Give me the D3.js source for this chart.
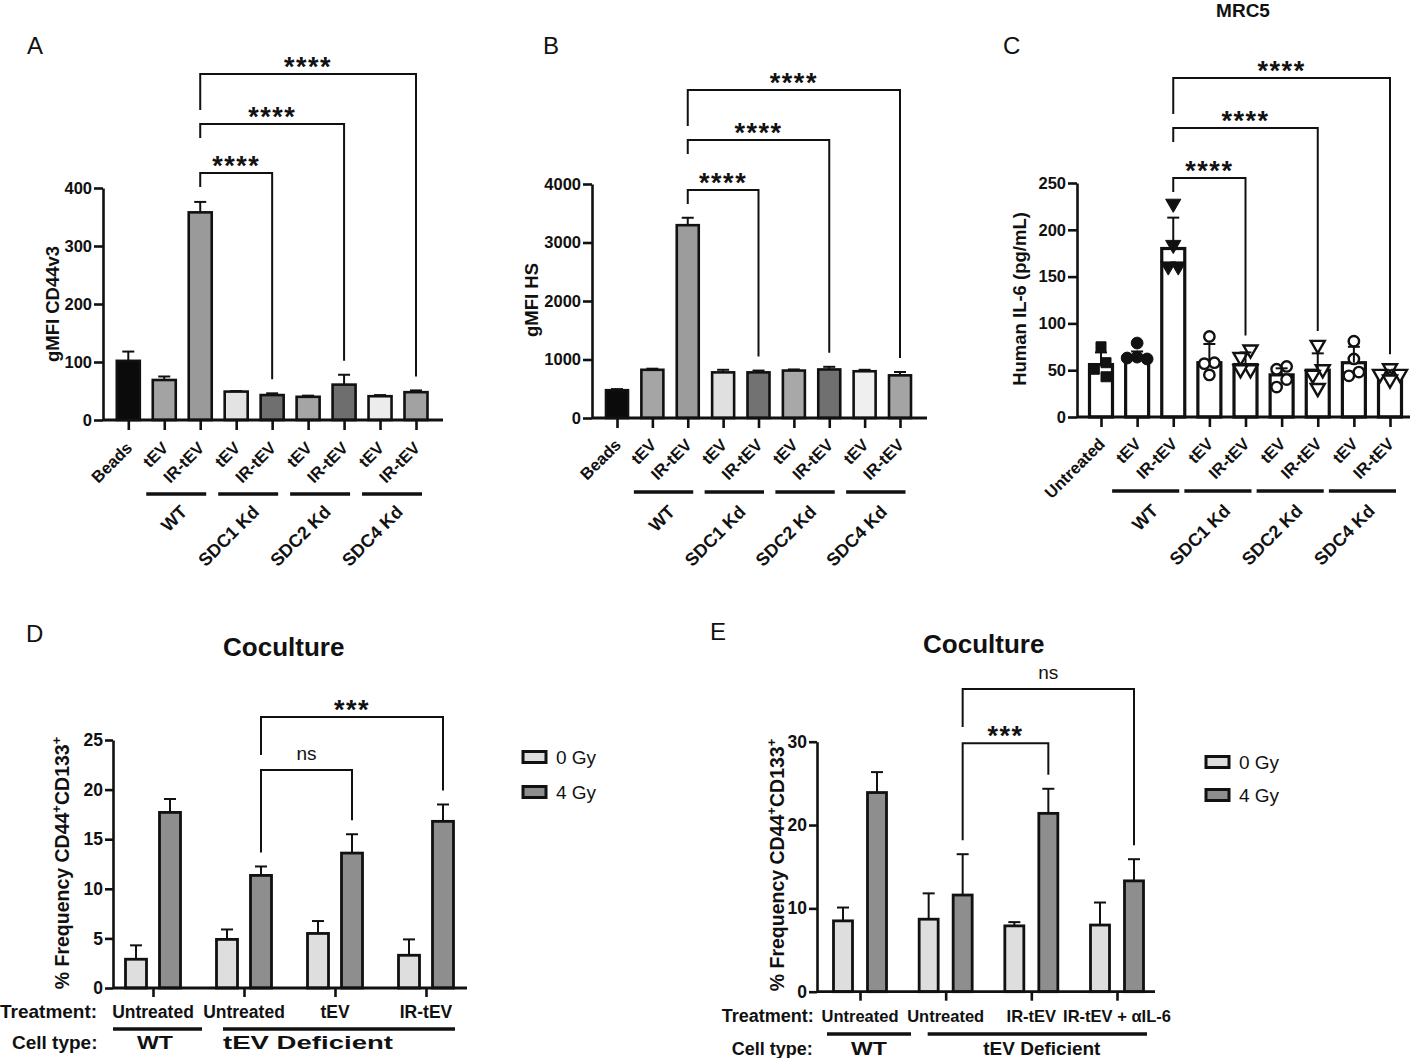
<!DOCTYPE html>
<html>
<head>
<meta charset="utf-8">
<script src="https://cdn.jsdelivr.net/npm/d3@7"></script>
<style>
  body { margin: 0; background: #fff; }
  svg { display: block; font-family: "Liberation Sans", Arial, sans-serif; }
</style>
</head>
<body>
<svg id="fig" width="1417" height="1058"></svg>
<script>
// ---------- data ----------
var aCats = ["Beads", "tEV", "IR-tEV", "tEV", "IR-tEV", "tEV", "IR-tEV", "tEV", "IR-tEV"];
var cCats = ["Untreated", "tEV", "IR-tEV", "tEV", "IR-tEV", "tEV", "IR-tEV", "tEV", "IR-tEV"];
var kdGroups = ["WT", "SDC1 Kd", "SDC2 Kd", "SDC4 Kd"];
var kdGroupBars = [[1, 2], [3, 4], [5, 6], [7, 8]];
var kdSig = [[2, 4, "****"], [2, 6, "****"], [2, 8, "****"]];

var aMean = [102, 69, 358, 49, 43, 40, 61, 41, 48];
var aErr = [16, 6, 18, 1, 3, 2, 17, 2, 3];
var aTicks = [0, 100, 200, 300, 400];

var bMean = [475, 824, 3296, 780, 780, 811, 830, 799, 729];
var bErr = [19, 19, 127, 44, 31, 19, 45, 25, 57];
var bTicks = [0, 1000, 2000, 3000, 4000];

var cMean = [56, 62, 180, 58, 56, 45, 50, 58, 47];
var cErr = [13, 8, 33, 20, 13, 7, 18, 17, 3];
var cPoints = [
  [75, 58, 51, 43],
  [79, 64, 63, 62],
  [228, 184, 161, 161],
  [86, 58, 57, 45],
  [72, 64, 51, 51],
  [54, 51, 40, 32],
  [77, 51, 45, 31],
  [81, 62, 48, 44],
  [52, 46, 46, 40]
];
var cTicks = [0, 50, 100, 150, 200, 250];

var doseSeries = ["0 Gy", "4 Gy"];
var cellTypes = ["WT", "tEV Deficient"];
var cellSpan = [[0, 0], [1, 3]];

var dTreat = ["Untreated", "Untreated", "tEV", "IR-tEV"];
var dMean0 = [2.9, 4.9, 5.5, 3.3];
var dErr0 = [1.4, 1.0, 1.25, 1.6];
var dMean4 = [17.7, 11.35, 13.6, 16.8];
var dErr4 = [1.35, 0.9, 1.9, 1.7];
var dTicks = [0, 5, 10, 15, 20, 25];
var dSig = [[1, 2, "ns"], [1, 3, "***"]];

var eTreat = ["Untreated", "Untreated", "IR-tEV", "IR-tEV + \u03b1IL-6"];
var eMean0 = [8.5, 8.7, 7.9, 8.0];
var eErr0 = [1.6, 3.1, 0.45, 2.7];
var eMean4 = [23.9, 11.6, 21.4, 13.3];
var eErr4 = [2.45, 4.9, 2.95, 2.6];
var eTicks = [0, 10, 20, 30];
var eSig = [[1, 2, "***"], [1, 3, "ns"]];

// ---------- drawing ----------
var INK = "#111";
var svg = d3.select("#fig");
svg.append("rect").attr("width", 1417).attr("height", 1058).attr("fill", "#fff");

function panelLetter(t, x, y) {
  svg.append("text").attr("x", x).attr("y", y).attr("font-size", 24)
    .attr("fill", INK).text(t);
}

function styleAxis(ax, fs) {
  ax.selectAll("path, line").attr("stroke", INK).attr("stroke-width", 2.6);
  ax.selectAll("text").attr("font-size", fs).attr("font-weight", "bold")
    .attr("fill", INK).attr("font-family", "Liberation Sans, Arial, sans-serif");
}

function sigLabel(g, x, level, label) {
  var t = g.append("text").attr("x", x).attr("text-anchor", "middle").attr("fill", INK);
  if (label == "ns") {
    t.attr("y", level - 10).attr("font-size", 19).text(label);
  } else {
    t.attr("y", level + 2).attr("font-size", 27).attr("font-weight", "bold")
      .attr("letter-spacing", 1.5).text(label);
  }
}

function errorBar(g, cx, y1, y2, cap) {
  g.append("line").attr("x1", cx).attr("x2", cx).attr("y1", y1).attr("y2", y2)
    .attr("stroke", INK).attr("stroke-width", 2);
  g.append("line").attr("x1", cx - cap / 2).attr("x2", cx + cap / 2).attr("y1", y2).attr("y2", y2)
    .attr("stroke", INK).attr("stroke-width", 2);
}

function barPanel(d, L) {
  var g = svg.append("g");
  var y = d3.scaleLinear().domain([0, d.ticks[d.ticks.length - 1]]).range([L.zeroY, L.topY]);
  var x = d3.scalePoint().domain(d3.range(d.mean.length)).range(L.centers);
  var top = d.mean.map(function(m, i) {
    return Math.max(m + d.err[i], d.points ? d3.max(d.points[i]) : 0);
  });

  g.selectAll("rect.bar").data(d.mean).join("rect")
    .attr("x", function(m, i) { return x(i) - L.bw / 2; })
    .attr("width", L.bw)
    .attr("y", function(m) { return y(m); })
    .attr("height", function(m) { return y(0) - y(m); })
    .attr("fill", function(m, i) { return L.fills[i]; })
    .attr("stroke", INK).attr("stroke-width", L.barStroke);

  if (d.points) {
    // simple beeswarm so points with close values sit side by side
    d.points.forEach(function(vals, i) {
      var placed = [];
      vals.slice().sort(d3.descending).forEach(function(v) {
        var py = y(v), offs = [0, -1, 1, -2, 2];
        for (var k = 0; k < offs.length; k++) {
          var ox = offs[k] * 10;
          var hit = placed.some(function(q) { return Math.abs(q.py - py) < 9.5 && Math.abs(q.ox - ox) < 9.5; });
          if (!hit) { placed.push({py: py, ox: ox}); break; }
        }
      });
      // centre each row of side-by-side points
      placed.forEach(function(p) {
        var row = placed.filter(function(q) { return Math.abs(q.py - p.py) < 9.5; });
        p.shift = d3.mean(row, function(q) { return q.ox; });
      });
      var m = L.markers[i];
      var sym = d3.symbol().type(m.type).size(m.size);
      g.selectAll(null).data(placed).join("path")
        .attr("d", sym)
        .attr("transform", function(p) {
          return "translate(" + (x(i) + p.ox - p.shift) + "," + p.py + ")" + (m.down ? " rotate(180)" : "");
        })
        .attr("fill", m.open ? "#fff" : INK)
        .attr("stroke", INK).attr("stroke-width", m.open ? 2.4 : 1);
    });
  }

  d.mean.forEach(function(m, i) {
    errorBar(g, x(i), y(m), y(m + d.err[i]), 12);
  });

  var ya = g.append("g").attr("transform", "translate(" + L.axisX + ",0)")
    .call(d3.axisLeft(y).tickValues(d.ticks).tickFormat(d3.format("d"))
      .tickSize(9).tickPadding(2).tickSizeOuter(0));
  styleAxis(ya, 16.5);
  var xa = g.append("g").attr("transform", "translate(0," + L.zeroY + ")")
    .call(d3.axisBottom(x).tickSize(10).tickFormat(""));
  xa.select(".domain").remove();
  styleAxis(xa, 16);
  g.append("line").attr("x1", L.axisX).attr("x2", L.axisEnd)
    .attr("y1", L.zeroY).attr("y2", L.zeroY).attr("stroke", INK).attr("stroke-width", 2.8);

  g.selectAll("text.cat").data(d.cats).join("text")
    .attr("transform", function(c, i) { return "translate(" + (x(i) + L.catDx) + "," + L.catY + ") rotate(-45)"; })
    .attr("text-anchor", "end").attr("font-size", 16.5).attr("font-weight", "bold")
    .attr("fill", INK).text(function(c) { return c; });

  d.groups.forEach(function(name, k) {
    var b = d.groupBars[k];
    var x1 = x(b[0]) - L.ulL, x2 = x(b[1]) + L.ulR;
    g.append("line").attr("x1", x1).attr("x2", x2).attr("y1", L.ulY).attr("y2", L.ulY)
      .attr("stroke", INK).attr("stroke-width", 3.6);
    var cx = (x(b[0]) + x(b[1])) / 2 + L.groupDx;
    g.append("text").attr("transform", "translate(" + cx + "," + L.groupY + ") rotate(-45)")
      .attr("text-anchor", "end").attr("font-size", 18).attr("font-weight", "bold")
      .attr("fill", INK).text(name);
  });

  d.sig.forEach(function(s, k) {
    var level = L.topY + L.sigLevels[k];
    var xl = x(s[0]), xr = x(s[1]);
    var leftEnd = level + L.leftLegs[k];
    var rightEnd = y(top[s[1]]) - 14;
    g.append("path").attr("d", "M" + xl + "," + leftEnd + "V" + level + "H" + xr + "V" + rightEnd)
      .attr("fill", "none").attr("stroke", INK).attr("stroke-width", 2);
    sigLabel(g, (xl + xr) / 2, level, s[2]);
  });

  g.append("text").attr("transform", "translate(" + L.titleX + "," + L.titleY + ") rotate(-90)")
    .attr("text-anchor", "middle").attr("dy", "0.35em").attr("font-size", 18.5)
    .attr("font-weight", "bold").attr("fill", INK).text(d.yTitle);
}

function groupedPanel(d, L) {
  var g = svg.append("g");
  var y = d3.scaleLinear().domain([0, d.ticks[d.ticks.length - 1]]).range([L.zeroY, L.topY]);
  var x = d3.scalePoint().domain(d3.range(d.treat.length)).range(L.groups);
  var sub = d3.scalePoint().domain(d3.range(2)).range([-L.offset, L.offset]);
  var series = [
    {mean: d.mean0, err: d.err0, fill: L.fills[0]},
    {mean: d.mean4, err: d.err4, fill: L.fills[1]}
  ];

  series.forEach(function(s, si) {
    g.selectAll(null).data(s.mean).join("rect")
      .attr("x", function(m, i) { return x(i) + sub(si) - L.bw / 2; })
      .attr("width", L.bw)
      .attr("y", function(m) { return y(m); })
      .attr("height", function(m) { return y(0) - y(m); })
      .attr("fill", s.fill).attr("stroke", INK).attr("stroke-width", L.barStroke);
    s.mean.forEach(function(m, i) {
      errorBar(g, x(i) + sub(si), y(m), y(m + s.err[i]), 12);
    });
  });

  var ya = g.append("g").attr("transform", "translate(" + L.axisX + ",0)")
    .call(d3.axisLeft(y).tickValues(d.ticks).tickSize(8).tickPadding(2).tickSizeOuter(0));
  styleAxis(ya, 17.5);
  var xa = g.append("g").attr("transform", "translate(0," + L.zeroY + ")")
    .call(d3.axisBottom(x).tickSize(9).tickFormat(""));
  xa.select(".domain").remove();
  styleAxis(xa, 16);
  g.append("line").attr("x1", L.axisX).attr("x2", L.axisEnd)
    .attr("y1", L.zeroY).attr("y2", L.zeroY).attr("stroke", INK).attr("stroke-width", 2.8);

  // treatment row
  g.append("text").attr("x", L.treatHeadX).attr("y", L.treatY).attr("font-size", L.headFs)
    .attr("font-weight", "bold").attr("fill", INK).text("Treatment:");
  g.selectAll("text.treat").data(d.treat).join("text")
    .attr("x", function(t, i) { return x(i); }).attr("y", L.treatY)
    .attr("text-anchor", "middle").attr("font-size", L.treatFs).attr("font-weight", "bold")
    .attr("fill", INK).text(function(t) { return t; });

  // cell type row
  g.append("text").attr("x", L.cellHeadX).attr("y", L.cellY).attr("font-size", L.headFs)
    .attr("font-weight", "bold").attr("fill", INK).text("Cell type:");
  cellTypes.forEach(function(name, k) {
    var sp = cellSpan[k];
    g.append("line").attr("x1", x(sp[0]) + L.cellUl[k][0]).attr("x2", x(sp[1]) + L.cellUl[k][1])
      .attr("y1", L.ulY).attr("y2", L.ulY).attr("stroke", INK).attr("stroke-width", 3.6);
    var cx = d3.mean(d3.range(sp[0], sp[1] + 1), function(i) { return x(i); }) + L.cellDx[k];
    var t = g.append("text").attr("x", cx).attr("y", L.cellY).attr("text-anchor", "middle")
      .attr("font-size", 19).attr("font-weight", "bold").attr("fill", INK).text(name);
    if (L.cellLen[k]) t.attr("textLength", L.cellLen[k]).attr("lengthAdjust", "spacingAndGlyphs");
  });

  // significance brackets on the 4 Gy bars
  d.sig.forEach(function(s, k) {
    var level = L.topY + L.sigLevels[k];
    var xl = x(s[0]) + sub(1), xr = x(s[1]) + sub(1);
    var leftEnd = L.leftLegs[k] == null ? y(d.mean4[s[0]] + d.err4[s[0]]) - 14 : level + L.leftLegs[k];
    var rightEnd = y(d.mean4[s[1]] + d.err4[s[1]]) - 14;
    g.append("path").attr("d", "M" + xl + "," + leftEnd + "V" + level + "H" + xr + "V" + rightEnd)
      .attr("fill", "none").attr("stroke", INK).attr("stroke-width", 2);
    sigLabel(g, (xl + xr) / 2, level, s[2]);
  });

  // legend
  doseSeries.forEach(function(name, k) {
    g.append("rect").attr("x", L.legX).attr("y", L.legY[k] - 5.5).attr("width", 23).attr("height", 11)
      .attr("fill", L.fills[k]).attr("stroke", INK).attr("stroke-width", 3);
    g.append("text").attr("x", L.legX + 33).attr("y", L.legY[k]).attr("dy", "0.36em")
      .attr("font-size", 19).attr("fill", INK).text(name);
  });

  // titles
  g.append("text").attr("x", L.titlePos[0]).attr("y", L.titlePos[1]).attr("text-anchor", "middle")
    .attr("font-size", 26).attr("font-weight", "bold").attr("fill", INK).text("Coculture");
  var yt = g.append("text").attr("transform", "translate(" + L.yTitlePos[0] + "," + L.yTitlePos[1] + ") rotate(-90)")
    .attr("text-anchor", "middle").attr("dy", "0.35em").attr("font-size", 19.5)
    .attr("font-weight", "bold").attr("fill", INK);
  yt.append("tspan").text("% Frequency CD44");
  yt.append("tspan").attr("dy", -8).attr("font-size", 13).text("+");
  yt.append("tspan").attr("dy", 8).text("CD133");
  yt.append("tspan").attr("dy", -8).attr("font-size", 13).text("+");
}

// ---------- panels ----------
panelLetter("A", 27, 54);
barPanel(
  {cats: aCats, mean: aMean, err: aErr, ticks: aTicks, groups: kdGroups, groupBars: kdGroupBars,
   sig: kdSig, yTitle: "gMFI CD44v3"},
  {axisX: 103, axisEnd: 443, zeroY: 420, topY: 188, centers: [128.3, 416], bw: 23, barStroke: 2.6,
   fills: ["#0b0b0b", "#a3a3a3", "#9a9a9a", "#e3e3e3", "#6f6f6f", "#a5a5a5", "#6e6e6e", "#ececec", "#a2a2a2"],
   catDx: 5, catY: 449, groupDx: 6, groupY: 513, ulY: 494, ulL: 18, ulR: 6,
   sigLevels: [-15, -64, -114], leftLegs: [14, 14, 36], titleX: 53, titleY: 304});

panelLetter("B", 543, 54);
barPanel(
  {cats: aCats, mean: bMean, err: bErr, ticks: bTicks, groups: kdGroups, groupBars: kdGroupBars,
   sig: kdSig, yTitle: "gMFI HS"},
  {axisX: 592, axisEnd: 927, zeroY: 418, topY: 184, centers: [617, 900], bw: 22, barStroke: 2.6,
   fills: ["#0b0b0b", "#a5a5a5", "#9c9c9c", "#e0e0e0", "#727272", "#a8a8a8", "#707070", "#efefef", "#a4a4a4"],
   catDx: 5, catY: 446, groupDx: 6, groupY: 513, ulY: 492, ulL: 18.5, ulR: 5.5,
   sigLevels: [6, -44, -94], leftLegs: [14, 14, 36], titleX: 532, titleY: 300});

panelLetter("C", 1003, 54);
svg.append("text").attr("x", 1243).attr("y", 17).attr("text-anchor", "middle").attr("font-size", 19)
  .attr("font-weight", "bold").attr("fill", INK).text("MRC5");
barPanel(
  {cats: cCats, mean: cMean, err: cErr, points: cPoints, ticks: cTicks, groups: kdGroups, groupBars: kdGroupBars,
   sig: kdSig, yTitle: "Human IL-6 (pg/mL)"},
  {axisX: 1077, axisEnd: 1410, zeroY: 417, topY: 183, centers: [1101, 1390], bw: 23, barStroke: 3.2,
   fills: d3.range(9).map(function() { return "#fff"; }),
   markers: [
     {type: d3.symbolSquare, size: 100},
     {type: d3.symbolCircle, size: 110},
     {type: d3.symbolTriangle, size: 100, down: true},
     {type: d3.symbolCircle, size: 85, open: true},
     {type: d3.symbolTriangle, size: 85, down: true, open: true},
     {type: d3.symbolCircle, size: 85, open: true},
     {type: d3.symbolTriangle, size: 85, down: true, open: true},
     {type: d3.symbolCircle, size: 85, open: true},
     {type: d3.symbolTriangle, size: 85, down: true, open: true}
   ],
   catDx: 5, catY: 445, groupDx: 4, groupY: 512, ulY: 491, ulL: 25, ulR: 6,
   sigLevels: [-5, -55, -105], leftLegs: [14, 14, 36], titleX: 1020, titleY: 299});

panelLetter("D", 26, 642);
groupedPanel(
  {treat: dTreat, mean0: dMean0, err0: dErr0, mean4: dMean4, err4: dErr4, ticks: dTicks, sig: dSig},
  {axisX: 113, axisEnd: 467, zeroY: 988, topY: 740, groups: [153, 426], offset: 17, bw: 21, barStroke: 2.8,
   fills: ["#dedede", "#8e8e8e"], treatHeadX: 0, treatY: 1018, cellHeadX: 12, cellY: 1049, ulY: 1029,
   headFs: 19, treatFs: 17.5,
   cellUl: [[-40, 49], [-21, 29]], cellDx: [2, -27], cellLen: [36, 170],
   sigLevels: [30, -23], leftLegs: [null, 38], legX: 523, legY: [757, 792],
   titlePos: [283.7, 656], yTitlePos: [62, 863]});

panelLetter("E", 710, 640);
groupedPanel(
  {treat: eTreat, mean0: eMean0, err0: eErr0, mean4: eMean4, err4: eErr4, ticks: eTicks, sig: eSig},
  {axisX: 817, axisEnd: 1155, zeroY: 991.7, topY: 741.7, groups: [860, 1117], offset: 17, bw: 19, barStroke: 2.8,
   fills: ["#dedede", "#8e8e8e"], treatHeadX: 721.7, treatY: 1022, cellHeadX: 731.7, cellY: 1055, ulY: 1034,
   headFs: 18, treatFs: 16.5,
   cellUl: [[-33, 51], [-18, 30]], cellDx: [9, 10.5], cellLen: [36, null],
   sigLevels: [1.5, -52.7], leftLegs: [null, 38], legX: 1206, legY: [762, 795],
   titlePos: [983.7, 652.6], yTitlePos: [777, 865]});
</script>
</body>
</html>
